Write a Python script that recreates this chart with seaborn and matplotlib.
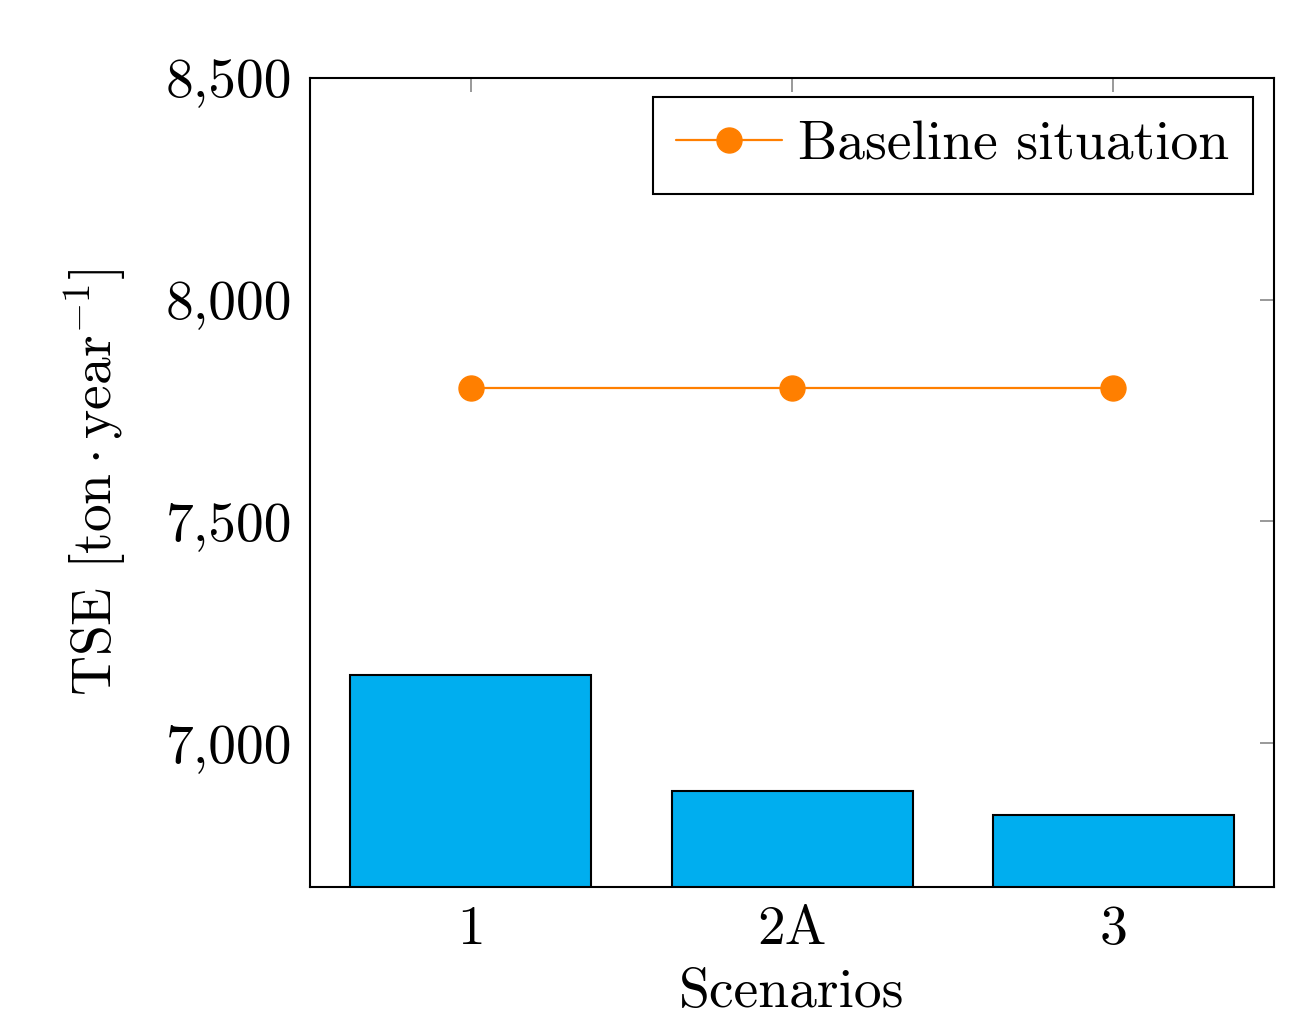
import matplotlib
matplotlib.use("Agg")
import matplotlib.pyplot as plt
import seaborn as sns
import pandas as pd
from matplotlib.ticker import FuncFormatter, FixedLocator

scenarios = ["1", "2A", "3"]
tse = [7153, 6892, 6838]
baseline = [7800, 7800, 7800]
yticks = [7000, 7500, 8000, 8500]

sns.set_style("white")
plt.rcParams['font.family'] = ['cmr10', 'DejaVu Serif']
plt.rcParams['mathtext.fontset'] = 'cm'
plt.rcParams['axes.formatter.use_mathtext'] = True
plt.rcParams['axes.unicode_minus'] = False
plt.rcParams['text.color'] = 'black'
plt.rcParams['axes.labelcolor'] = 'black'
plt.rcParams['xtick.labelcolor'] = 'black'
plt.rcParams['ytick.labelcolor'] = 'black'

FS = 40

fig = plt.figure(figsize=(13.09, 10.18), dpi=100)
ax = fig.add_axes([310/1309, 1-887/1018, (1274-310)/1309, (887-78)/1018])

df = pd.DataFrame({"Scenario": scenarios, "TSE": tse})
sns.barplot(data=df, x="Scenario", y="TSE", color="#00AEEF", saturation=1,
            edgecolor="black", linewidth=1.5, width=0.75, ax=ax, zorder=3)
ax.plot(range(len(scenarios)), baseline, color="#FF7F00", lw=1.6,
        marker="o", markersize=18, zorder=4, label="Baseline situation")

ax.set_xlim(-0.5, 2.5)
ax.set_ylim(6675, 8500)
ax.yaxis.set_major_locator(FixedLocator(yticks))
ax.yaxis.set_major_formatter(FuncFormatter(lambda v, p: f"{v:,.0f}"))

for s in ax.spines.values():
    s.set_visible(True)
    s.set_color("black")
    s.set_linewidth(1.5)
    s.set_zorder(5)

ax.tick_params(axis="both", direction="in", length=10, width=1.2, color="#888888",
               top=True, right=True, labelsize=FS, pad=13)
ax.set_xlabel("Scenarios", fontsize=FS, labelpad=10)
ax.set_ylabel(r"TSE [$\mathrm{ton}\cdot\mathrm{year}^{-1}$]", fontsize=FS, labelpad=26)

leg = ax.legend(loc="upper right", fontsize=FS, frameon=True, fancybox=False,
                edgecolor="black", framealpha=1, handlelength=1.9,
                handletextpad=0.3, borderpad=0.42, borderaxespad=0,
                bbox_to_anchor=(0.978, 0.9765))
leg.get_frame().set_linewidth(1.5)

fig.savefig("out.png", dpi=100)
